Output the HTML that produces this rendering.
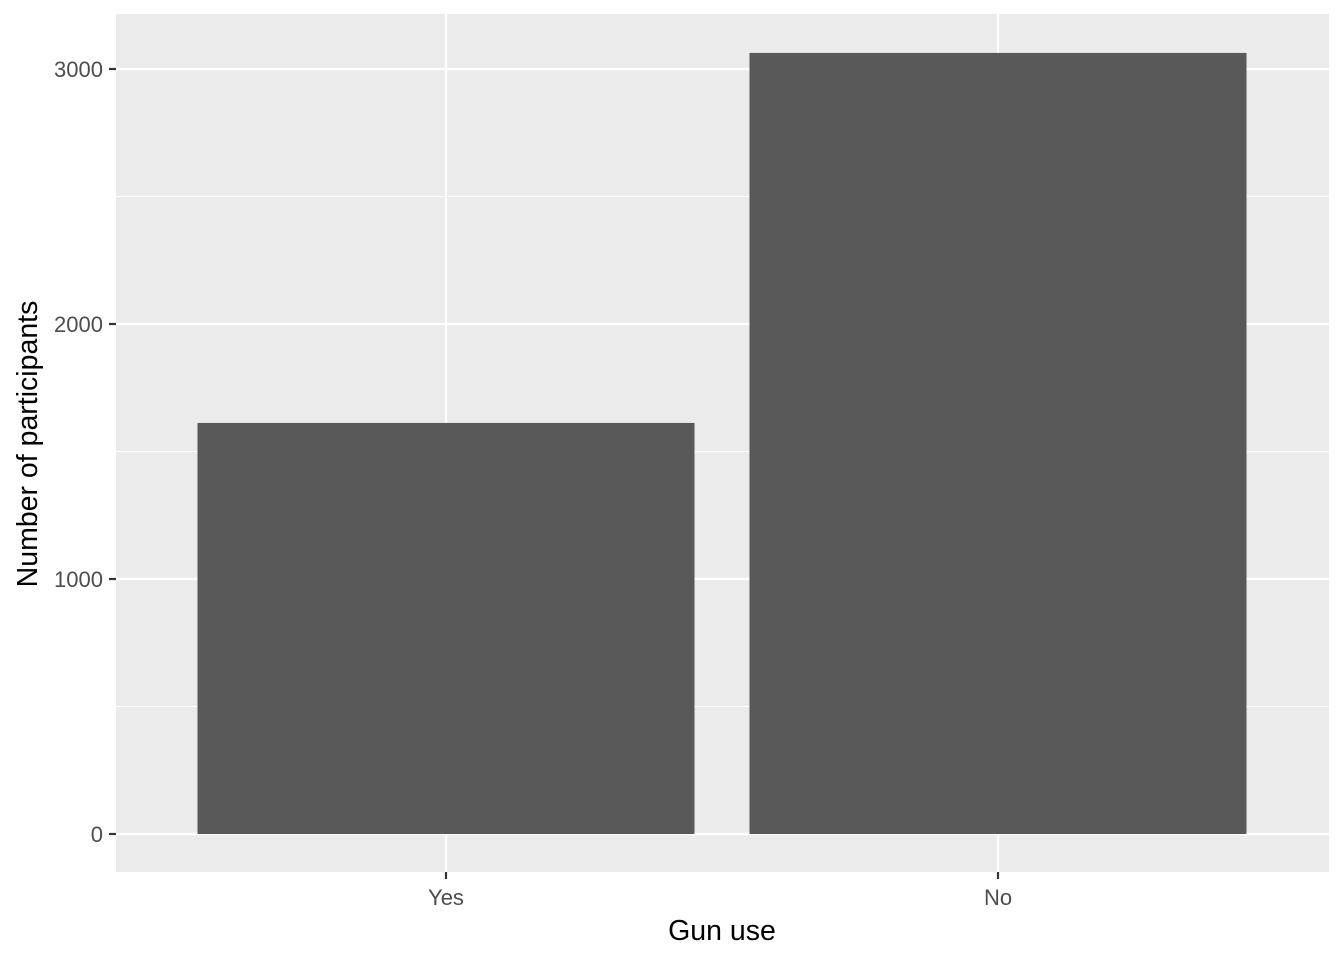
<!DOCTYPE html>
<html><head><meta charset="utf-8"><style>
body{margin:0;background:#fff;}
svg text{font-family:"Liberation Sans",Arial,sans-serif;}
</style></head><body>
<svg id="chart" width="1344" height="960" xmlns="http://www.w3.org/2000/svg">
<rect x="116" y="14" width="1213" height="858" fill="#ebebeb"/>
<g id="grid"></g><g id="bars"></g><g id="axes"></g>
<text x="722" y="940" font-size="28.5" text-anchor="middle" fill="#000">Gun use</text>
<text transform="translate(37,444) rotate(-90)" font-size="28.5" text-anchor="middle" fill="#000">Number of participants</text>
</svg>
<script>
const categories = ["Yes", "No"];
const counts = [1612, 3063];
const yTicks = [0, 1000, 2000, 3000];
const yTickLabels = ["0", "1000", "2000", "3000"];
const NS = "http://www.w3.org/2000/svg";
const y = v => 834 - v * 0.255;
const x = i => 446 + i * 552;
const bw = 497;
function mk(tag, attrs, parent){const e=document.createElementNS(NS,tag);for(const k in attrs)e.setAttribute(k,attrs[k]);parent.appendChild(e);return e;}
const grid=document.getElementById('grid'),bars=document.getElementById('bars'),axes=document.getElementById('axes');
for(let i=0;i<yTicks.length-1;i++){
  const m=(yTicks[i]+yTicks[i+1])/2;
  const l=mk('line',{x1:116,x2:1329,y1:y(m),y2:y(m),stroke:'#fff','stroke-width':1.1},grid);
  
  
}
yTicks.forEach((t,i)=>{
  const l=mk('line',{x1:116,x2:1329,y1:y(t),y2:y(t),stroke:'#fff','stroke-width':2.2},grid);
  
  
  const tk=mk('line',{x1:109,x2:116,y1:y(t),y2:y(t),stroke:'#333','stroke-width':2.2},axes);
  
  
  const tx=mk('text',{x:103,y:y(t)+8,'font-size':22,'text-anchor':'end',fill:'#4d4d4d'},axes);
  tx.textContent=yTickLabels[i];
  
  
});
categories.forEach((c,i)=>{
  const l=mk('line',{x1:x(i),x2:x(i),y1:14,y2:872,stroke:'#fff','stroke-width':2.2},grid);
  
  
  const b=mk('rect',{x:x(i)-bw/2,y:y(counts[i]),width:bw,height:y(0)-y(counts[i]),fill:'#595959'},bars);
  
  
  const tk=mk('line',{x1:x(i),x2:x(i),y1:872,y2:879,stroke:'#333','stroke-width':2.2},axes);
  
  
  const tx=mk('text',{x:x(i),y:905,'font-size':22,'text-anchor':'middle',fill:'#4d4d4d'},axes);
  tx.textContent=c;
  
  
});
</script>
</body></html>
